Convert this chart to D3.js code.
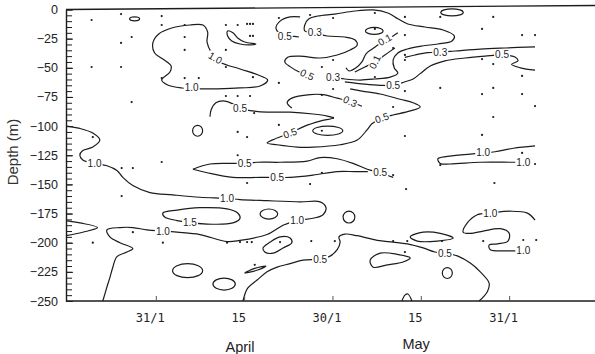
<!DOCTYPE html>
<html><head><meta charset="utf-8">
<script src="https://cdn.jsdelivr.net/npm/d3@7"></script>
<style>body{margin:0;background:#fff}svg{display:block}</style>
</head><body><svg id="c" width="595" height="354"></svg>
<script>
// ---------- axis data ----------
const yMajorTicks = [0,-25,-50,-75,-100,-125,-150,-175,-200,-225,-250];
const xTickDays = [0,15,30,45,60];
const xTickLabels = ["31/1","15","30/1","15","31/1"];
const monthNames = ["April","May"];
const monthDays = [14.3, 44.2];

// ---------- contour lines: [day, depth] ----------
const line10Main = [[-15.25,-100],[-12.9,-102],[-10.7,-106],[-9.5,-112],[-10.7,-118],[-12.4,-121],[-12.9,-125],[-12.4,-129],[-10.4,-132],[-8.3,-134],[-6.6,-138],[-5.6,-144],[-3.9,-151],[-1.0,-157],[2.9,-159],[7.5,-161],[12.1,-162],[14.3,-163],[18.9,-164],[24.5,-165],[27.9,-165],[28.9,-170],[28.4,-176],[26.7,-179],[24.0,-181],[21.6,-185],[20.6,-188],[18.9,-193],[14.3,-198],[12.1,-199],[7.5,-193],[3.6,-191],[1.2,-190],[-1.5,-189],[-3.9,-187],[-6.1,-187],[-8.3,-189],[-7.8,-195],[-6.1,-200],[-3.9,-205],[-4.9,-208],[-6.6,-212],[-7.3,-221],[-7.8,-230],[-8.3,-238],[-9.0,-250]];
const line10Wedge = [[-15.25,-181],[-12.9,-183],[-9.9,-187],[-12.4,-191],[-15.25,-194]];
const line05Bottom = [[14.8,-250],[15.6,-239],[17.2,-232],[18.9,-225],[20.6,-221],[22.8,-218],[25.0,-215],[27.9,-214],[29.6,-211.5],[30.8,-206],[31.3,-199.5],[31.1,-195],[32.1,-192.6],[34.2,-194],[37.6,-198],[40.3,-199.5],[42.7,-201],[45.4,-204.5],[47.4,-208],[49.1,-209],[51.3,-211.5],[53.4,-217.5],[55.1,-225],[56.6,-234.6],[56.3,-242],[54.9,-250]];
const line10RightLow = [[64.4,-180.6],[63.1,-174.6],[60.2,-173],[56.8,-174.6],[54.6,-176],[52.9,-183],[52.2,-191],[53.4,-192],[55.6,-190],[58.5,-188],[60.0,-191.8],[59.8,-198.6],[58.0,-201],[56.6,-202],[56.8,-206],[59.7,-207],[61.2,-207]];
const line10RightMid = [[64.4,-117],[60.7,-119],[57.6,-122],[55.6,-123],[53.4,-124],[49.5,-126],[47.9,-128],[48.3,-132],[50.0,-132.5],[55.1,-131],[60.2,-131],[61.2,-131]];
const line05LensUp = [[6.3,-137],[9.2,-132.5],[13.1,-132],[15.1,-132],[17.2,-131],[21.1,-131],[25.7,-130],[27.9,-127],[30.8,-128],[33.5,-132],[35.9,-137],[38.1,-140],[40.3,-144]];
const line05LensLow = [[6.3,-137],[8.7,-140],[13.1,-144],[17.7,-144],[20.6,-144],[22.8,-144],[26.7,-142],[30.8,-139],[33.8,-139],[36.0,-139]];
const line05Mid = [[9.2,-92],[9.4,-86],[10.2,-80],[11.7,-78.5],[13.1,-81],[14.3,-85],[16.5,-87],[18.9,-88],[22.8,-88],[26.7,-89.6],[29.1,-91.4],[30.1,-93],[27.9,-95.7],[25.3,-100],[22.8,-106],[20.2,-111],[18.9,-114.5],[20.6,-116],[24.0,-118],[26.7,-118],[31.3,-116],[34.2,-112],[35.9,-103],[36.7,-98],[38.4,-93],[40.3,-90.5],[43.2,-87],[44.9,-83.6],[43.7,-80],[41.5,-77],[38.1,-72.5],[35.0,-70],[33.0,-68]];
const line03Hook = [[23.1,-84.5],[22.3,-80],[23.1,-76],[26.2,-73],[28.4,-73],[30.8,-76],[33.0,-79],[35.0,-83]];
const line05Diag = [[32.1,-62],[35.5,-64],[38.1,-65],[40.3,-65],[42.3,-62],[43.7,-59.6],[44.9,-55],[46.6,-48.5],[49.1,-44],[52.5,-41.6],[55.9,-40],[58.8,-39],[61.0,-40.8],[61.5,-44],[60.4,-47],[61.9,-50],[64.4,-52]];
const line03Right = [[42.3,-41],[44.0,-39],[46.2,-37],[48.3,-36.5],[50.8,-35.6],[55.1,-34],[59.3,-33],[64.4,-32]];
const line05TopHook = [[24.5,-6.4],[22.8,-6.4],[21.1,-10],[20.4,-16],[20.9,-20],[21.9,-23],[23.5,-23],[24.3,-23.6]];
const line03Top = [[25.7,-56],[24.1,-53],[22.8,-49],[21.9,-45],[22.4,-41],[24.5,-40],[27.9,-41.6],[30.8,-39],[33.0,-34.7],[34.2,-30.5],[33.8,-26],[32.1,-23.6],[29.1,-22.7],[27.0,-20],[25.3,-18.4],[25.3,-13.3],[26.0,-8],[27.5,-5.6],[30.4,-3.9],[33.8,-1.3],[36.9,-0.4],[39.4,-3],[41.1,-8],[42.8,-12.4],[45.7,-15],[48.8,-17.6],[50.7,-22.7],[50.3,-27],[47.9,-29.6],[45.2,-31.3],[42.7,-33.9],[41.1,-37.3],[40.3,-43.3],[40.5,-50.2],[41.1,-54.5],[39.8,-58],[37.2,-59.6],[34.7,-60.5],[32.1,-59.6],[30.1,-58]];
const line01A = [[41.1,-20],[40.3,-22.7],[38.9,-26],[37.7,-30.5],[36.7,-34],[35.7,-38],[35.0,-45],[34.0,-50],[32.8,-52.7],[32.3,-50]];
const line01B = [[33.8,-53.6],[35.5,-49.3],[37.2,-45],[38.6,-40],[40.6,-33]];
const archBottom = [[41.8,-250],[42.3,-245],[42.8,-244],[43.5,-250]];

// ---------- closed contours ----------
const loop10Upper = [[1.0,-60.5],[2.4,-53.6],[2.6,-48.5],[1.2,-42.5],[-0.2,-37.3],[-0.5,-28.7],[0.5,-21],[2.7,-15.9],[5.8,-13.3],[8.0,-13.3],[8.8,-19.3],[8.7,-27.9],[9.4,-36.5],[10.9,-45],[14.3,-51],[17.3,-56],[19.0,-60.5],[17.7,-65.6],[14.3,-67.3],[10.4,-68],[7.5,-68],[4.4,-67.3],[2.0,-64.7]];
const loop15 = [[1.2,-174.5],[3.6,-172],[7.5,-170],[12.1,-171],[13.9,-174.5],[14.3,-179],[13.1,-183],[8.7,-184],[3.6,-181],[1.5,-178]];
const leafTop = [[12.2,-18.4],[13.1,-20],[13.9,-24.4],[15.1,-27.9],[17.0,-29.6],[16.0,-30.4],[14.3,-29.6],[12.9,-27],[12.2,-22.7]];
const loopLow1 = [[18.5,-208],[18.2,-204.5],[19.4,-199.5],[21.1,-195],[22.8,-196],[23.1,-200],[21.6,-204.5],[19.9,-209]];
const leafLow2 = [[43.2,-195],[45.4,-191],[48.3,-192],[50.5,-196],[47.8,-198.6],[44.4,-198.6]];
const leafLow3 = [[36.4,-215],[38.1,-209],[41.0,-210],[43.2,-213],[42.0,-216.5],[39.3,-219],[36.9,-221]];
const leafLow4 = [[15.1,-226],[16.8,-222],[18.7,-220],[17.3,-223.4]];

// ellipses: [centre day, centre depth, radius days, radius m]
const ellipses = [[19.2,-175.4,1.5,4.3],[5.4,-224,2.55,6],[11.6,-235.5,1.9,5.1],[32.8,-178,1.0,5.1],[49.5,-226,0.85,4.7],[7.1,-104,0.85,4.7],[29.2,-104,2.55,3.9],[50.3,-2.5,1.9,3.0],[-3.6,-8,0.85,1.7],[37.1,-18.4,1.5,3.0]];

// contour labels: [day, depth, text, angle]
const contourLabels = [[-10.4,-132,"1.0",0],[12.1,-162,"1.0",0],[24.0,-181,"1.0",0],[1.2,-190,"1.0",0],[5.8,-183,"1.5",0],[27.9,-214,"0.5",0],[49.1,-209,"0.5",0],[56.8,-174.6,"1.0",0],[62.4,-207,"1.0",0],[55.6,-123,"1.0",0],[62.4,-131,"1.0",0],[15.1,-132,"0.5",0],[20.6,-144,"0.5",0],[38.1,-140,"0.5",0],[14.3,-85,"0.5",0],[22.8,-106,"0.5",-20],[38.4,-93,"0.5",-20],[33.0,-79,"0.3",25],[40.3,-65,"0.5",0],[48.3,-36.5,"0.3",0],[58.8,-39,"0.5",0],[27.0,-20,"0.3",0],[21.9,-23,"0.5",0],[25.7,-56,"0.5",25],[30.1,-58,"0.3",0],[38.9,-26,"0.1",-30],[37.2,-45,"0.1",-65],[10.1,-41.6,"1.0",30],[6.1,-67.3,"1.0",0]];

// sample points
const samplePoints = [[-10.9,-9],[-5.9,-3.9],[-4.1,-23.6],[-5.9,-28.7],[-10.9,-49.3],[-5.9,-49.3],[-4.1,-79.4],[1.0,-5.6],[1.0,-13.3],[4.9,-13.3],[4.9,-23.6],[4.9,-34.7],[1.0,-58.8],[4.9,-58.8],[7.3,-58.8],[11.9,-13.3],[13.9,-13.3],[15.5,-12.4],[16.0,-12.4],[16.5,-12.4],[16.0,-22.7],[16.5,-22.7],[11.9,-34.7],[11.9,-49.3],[16.5,-58],[20.9,-7.3],[20.9,-63],[11.9,-74.2],[13.9,-74.2],[16.0,-74.2],[16.7,-88.8],[20.9,-99],[13.9,-105],[15.5,-109.4],[13.9,-125],[-10.7,-109.4],[-5.8,-136],[-3.9,-136],[1.0,-130.8],[-5.8,-160],[-3.9,-191],[-10.7,-200],[1.2,-200],[15.5,-148.8],[12.1,-200],[14.3,-199.5],[15.5,-199.5],[16.3,-199.5],[21.1,-199.5],[16.8,-219],[26.2,-4.7],[30.1,-7.3],[37.2,-3],[42.3,-6.4],[48.3,-6.4],[57.3,-6.4],[55.4,-16.7],[62.2,-21.9],[64.4,-21.9],[37.2,-16.7],[42.3,-21.9],[40.3,-33],[42.3,-39],[42.3,-43.3],[30.1,-43.3],[55.4,-42.5],[57.3,-46.8],[62.2,-57],[28.2,-49.3],[37.2,-57.9],[30.1,-68.2],[28.2,-73.3],[42.3,-70],[48.3,-67.3],[55.4,-72.5],[57.3,-67.3],[62.2,-72.5],[64.4,-82.8],[40.3,-83.6],[30.1,-93],[28.2,-104],[42.3,-108.5],[55.4,-107.6],[57.3,-92.2],[48.3,-133.4],[62.2,-123],[64.4,-132.5],[28.2,-140],[26.2,-149.7],[40.3,-142],[42.5,-154],[26.4,-198.6],[30.4,-198.6],[40.3,-198.6],[42.7,-198.6],[42.3,-208],[55.6,-198.6],[62.4,-197.7],[64.6,-197.7],[48.6,-198.6],[57.5,-148.8]];

const openLines = [line10Main,line10Wedge,line05Bottom,line10RightLow,line10RightMid,line05LensUp,line05LensLow,line05Mid,line03Hook,line05Diag,line03Right,line05TopHook,line03Top,line01A,line01B,archBottom];
const closedLines = [loop10Upper,loop15,leafTop,loopLow1,leafLow2,leafLow3,leafLow4];

// ---------- drawing ----------
const svg = d3.select("#c");
const x = d3.scaleLinear().domain([-15.25, 74.75]).range([66, 596]);
const y = d3.scaleLinear().domain([0, -250]).range([9.5, 301]);
const ink = "#1c1c1c";

const lineGen = d3.line().x(d=>x(d[0])).y(d=>y(d[1])).curve(d3.curveCatmullRom.alpha(0.5));
const loopGen = d3.line().x(d=>x(d[0])).y(d=>y(d[1])).curve(d3.curveCatmullRomClosed.alpha(0.5));

const g = svg.append("g");
g.selectAll("path.open").data(openLines).join("path").attr("class","open")
  .attr("d", lineGen).attr("fill","none").attr("stroke",ink).attr("stroke-width",1.2);
g.selectAll("path.closed").data(closedLines).join("path").attr("class","closed")
  .attr("d", loopGen).attr("fill","none").attr("stroke",ink).attr("stroke-width",1.2);
g.selectAll("ellipse").data(ellipses).join("ellipse")
  .attr("cx",d=>x(d[0])).attr("cy",d=>y(d[1]))
  .attr("rx",d=>x(d[2])-x(0)).attr("ry",d=>y(-d[3])-y(0))
  .attr("fill","none").attr("stroke",ink).attr("stroke-width",1.2);

// labels with knock-out
const lab = g.selectAll("g.lab").data(contourLabels).join("g").attr("class","lab")
  .attr("transform", d=>`translate(${x(d[0])},${y(d[1])}) rotate(${d[3]})`);
lab.append("rect").attr("x",-8).attr("y",-4.5).attr("width",16).attr("height",9).attr("fill","#fff");
lab.append("text").text(d=>d[2]).attr("text-anchor","middle").attr("dy","0.35em")
  .attr("font-family","Liberation Sans, Arial, sans-serif").attr("font-size",10).attr("fill",ink);

// sample dots
g.selectAll("circle").data(samplePoints).join("circle")
  .attr("cx",d=>x(d[0])).attr("cy",d=>y(d[1])).attr("r",1.1).attr("fill",ink);

// frame: top line (slightly skewed like the scanned original)
svg.append("line").attr("x1",x(-15.25)).attr("x2",595).attr("y1",y(0)).attr("y2",y(0)-4)
  .attr("stroke",ink).attr("stroke-width",1.4);

// y axis
const yMinor = d3.range(0, -251, -5);
const yAxisMinor = d3.axisLeft(y).tickValues(yMinor).tickSize(-6).tickSizeOuter(0).tickFormat("");
svg.append("g").attr("transform",`translate(${x(-15.25)},0)`).call(yAxisMinor)
  .call(s=>s.selectAll("line").attr("stroke",ink).attr("stroke-width",1))
  .call(s=>s.select(".domain").attr("stroke",ink).attr("stroke-width",1.4));
const yAxis = d3.axisLeft(y).tickValues(yMajorTicks).tickSize(-7).tickSizeOuter(0).tickPadding(8)
  .tickFormat(d=> d===0 ? "0" : "\u2212"+Math.abs(d));
svg.append("g").attr("transform",`translate(${x(-15.25)},0)`).call(yAxis)
  .call(s=>s.select(".domain").remove())
  .call(s=>s.selectAll("line").attr("stroke",ink))
  .call(s=>s.selectAll("text").attr("font-family","Liberation Sans, Arial, sans-serif").attr("font-size",12.5).attr("fill","#222"));

// x axis
const xAxis = d3.axisBottom(x).tickValues(xTickDays).tickSize(-5).tickSizeOuter(0).tickPadding(12)
  .tickFormat((d,i)=>xTickLabels[i]);
svg.append("g").attr("transform",`translate(0,${y(-250)})`).call(xAxis)
  .call(s=>s.select(".domain").attr("stroke",ink).attr("stroke-width",1.4).attr("d",`M${x(-15.25)},0H595`))
  .call(s=>s.selectAll("line").attr("stroke","#555"))
  .call(s=>s.selectAll("text").attr("dx",-6).attr("font-family","DejaVu Sans Mono, monospace").attr("font-size",12).attr("fill","#222"));

// month labels
svg.selectAll("text.month").data(monthNames).join("text").attr("class","month")
  .attr("x",(d,i)=>x(monthDays[i])).attr("y",(d,i)=> i===0 ? 352 : 349)
  .attr("text-anchor","middle").attr("font-family","Liberation Sans, Arial, sans-serif")
  .attr("font-size",14.5).attr("fill","#222").text(d=>d);

// y title
svg.append("text").attr("transform","translate(18,152) rotate(-90)")
  .attr("text-anchor","middle").attr("font-family","Liberation Sans, Arial, sans-serif")
  .attr("font-size",15).attr("fill","#333").text("Depth (m)");
</script></body></html>
